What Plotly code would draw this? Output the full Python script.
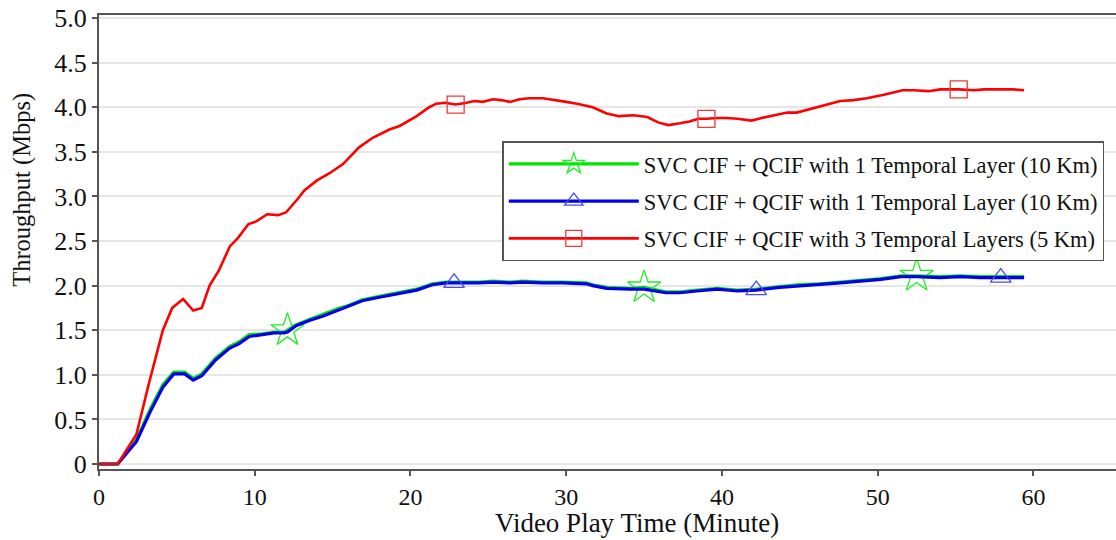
import plotly.graph_objects as go

# ---- data ----
t_10km = [0, 1.2, 2.4, 3.3, 4.1, 4.8, 5.5, 6.05, 6.6, 7.5,
          8.4, 9.0, 9.65, 10.5, 11.25, 11.9, 12.1, 12.65, 13.5, 14.4,
          15.3, 15.9, 16.9, 18.0, 19.1, 20.4, 21.4, 22.3, 22.8, 23.4,
          24.4, 25.3, 26.4, 27.2, 28.5, 29.8, 31.3, 31.7, 32.6, 34.1,
          35.0, 36.4, 37.3, 38.4, 39.7, 41.0, 42.2, 43.7, 45.0, 46.3,
          47.6, 48.9, 50.2, 51.5, 52.5, 54.0, 55.3, 56.6, 57.9, 59.4]

green_1layer = [0, 0, 0.27, 0.62, 0.89, 1.03, 1.03, 0.96, 1.01, 1.19,
                1.32, 1.37, 1.45, 1.46, 1.48, 1.48, 1.50, 1.56, 1.62, 1.68,
                1.74, 1.77, 1.84, 1.88, 1.92, 1.96, 2.02, 2.04, 2.04, 2.04,
                2.04, 2.05, 2.04, 2.05, 2.04, 2.04, 2.03, 2.01, 1.98, 1.97,
                1.98, 1.93, 1.93, 1.95, 1.97, 1.95, 1.96, 1.99, 2.01, 2.02,
                2.04, 2.06, 2.08, 2.11, 2.11, 2.10, 2.11, 2.10, 2.10, 2.10]

blue_1layer = [0, 0, 0.25, 0.59, 0.86, 1.01, 1.01, 0.94, 0.99, 1.17,
               1.30, 1.35, 1.43, 1.45, 1.47, 1.47, 1.48, 1.55, 1.61, 1.66,
               1.72, 1.76, 1.83, 1.87, 1.91, 1.95, 2.01, 2.03, 2.03, 2.03,
               2.03, 2.04, 2.03, 2.04, 2.03, 2.03, 2.02, 2.00, 1.97, 1.96,
               1.96, 1.92, 1.92, 1.94, 1.96, 1.94, 1.95, 1.98, 1.995, 2.01,
               2.03, 2.05, 2.07, 2.10, 2.10, 2.09, 2.10, 2.09, 2.09, 2.09]

t_5km = [0, 1.2, 2.4, 3.2, 4.1, 4.7, 5.4, 6.05, 6.6, 7.1,
         7.7, 8.4, 8.9, 9.6, 10.1, 10.8, 11.5, 12.0, 12.7, 13.2,
         14.0, 14.8, 15.65, 16.7, 17.6, 18.65, 19.3, 20.4, 21.2, 21.65,
         22.2, 22.9, 23.6, 24.1, 24.65, 25.3, 25.8, 26.4, 27.0, 27.65,
         28.5, 29.4, 30.0, 30.7, 31.3, 31.7, 32.6, 33.4, 34.3, 35.2,
         35.9, 36.55, 37.3, 37.9, 38.5, 39.0, 39.7, 40.3, 41.0, 41.9,
         42.55, 43.3, 44.2, 44.8, 45.45, 46.1, 46.7, 47.6, 48.45, 49.3,
         50.4, 51.6, 52.3, 53.3, 54.0, 55.2, 56.2, 56.8, 57.9, 58.7, 59.4]

red_3layers = [0, 0, 0.33, 0.90, 1.50, 1.75, 1.85, 1.72, 1.75, 2.00,
               2.17, 2.44, 2.53, 2.69, 2.72, 2.80, 2.79, 2.82, 2.96, 3.07,
               3.18, 3.26, 3.36, 3.55, 3.66, 3.75, 3.79, 3.90, 4.00, 4.04,
               4.05, 4.03, 4.05, 4.07, 4.06, 4.09, 4.08, 4.06, 4.09, 4.10,
               4.10, 4.08, 4.06, 4.04, 4.02, 4.00, 3.93, 3.90, 3.91, 3.89,
               3.83, 3.80, 3.82, 3.84, 3.87, 3.87, 3.88, 3.88, 3.87, 3.85,
               3.88, 3.91, 3.94, 3.94, 3.97, 4.00, 4.03, 4.07, 4.08, 4.10,
               4.14, 4.19, 4.19, 4.18, 4.20, 4.20, 4.19, 4.20, 4.20, 4.20, 4.19]

star_marker_t = [12.1, 35.0, 52.5]
triangle_marker_t = [22.8, 42.2, 57.9]
square_marker_t = [22.9, 39.0, 55.2]

names = ["SVC CIF + QCIF with 1 Temporal Layer (10 Km)",
         "SVC CIF + QCIF with 1 Temporal Layer (10 Km)",
         "SVC CIF + QCIF with 3 Temporal Layers (5 Km)"]

y_tickvals = [0, 0.5, 1.0, 1.5, 2.0, 2.5, 3.0, 3.5, 4.0, 4.5, 5.0]
y_ticktext = ["0", "0.5", "1.0", "1.5", "2.0", "2.5", "3.0", "3.5", "4.0", "4.5", "5.0"]
x_tickvals = [0, 10, 20, 30, 40, 50, 60]

x_title = "Video Play Time (Minute)"
y_title = "Throughput (Mbps)"

FONT = "Liberation Serif, Times New Roman, serif"

fig = go.Figure()

def add_series(x, y, name, color, width, symbol, msize, marker_t, mcolor, grp):
    sel = [x.index(v) for v in marker_t]
    fig.add_trace(go.Scatter(
        x=x, y=y, name=name, mode="lines+markers", legendgroup=grp,
        line=dict(color=color, width=width),
        marker=dict(symbol=symbol, size=msize, color=mcolor,
                    line=dict(color=mcolor, width=1.3)),
        selectedpoints=sel,
        selected=dict(marker=dict(opacity=1)),
        unselected=dict(marker=dict(opacity=0)),
    ))

add_series(t_10km, green_1layer, names[0], "#00e600", 3.2, "star-open", 25,
           star_marker_t, "#22ee22", "g")
add_series(t_10km, blue_1layer, names[1], "#0000f0", 3.2, "triangle-up-open", 18,
           triangle_marker_t, "#4a4af5", "b")
add_series(t_5km, red_3layers, names[2], "#ff0000", 2.6, "square-open", 17,
           square_marker_t, "#f03a3a", "r")

fig.update_layout(
    width=1116, height=540,
    margin=dict(l=99, r=0, t=15, b=71),
    plot_bgcolor="white", paper_bgcolor="white",
    font=dict(family=FONT, color="#111111", size=22),
    showlegend=True,
    legend=dict(
        x=0.9885, y=0.722, xanchor="right", yanchor="top",
        bgcolor="white", bordercolor="#555555", borderwidth=1.5,
        font=dict(family=FONT, size=22.5, color="#111111"),
        traceorder="grouped", tracegroupgap=5, itemwidth=130,
    ),
    xaxis=dict(
        range=[0, 65.3], tickvals=x_tickvals,
        showline=True, linecolor="#555555", linewidth=2, mirror=True,
        ticks="outside", ticklen=5, tickcolor="#555555", tickwidth=1.5,
        showgrid=False, zeroline=False,
        tickfont=dict(family=FONT, size=24),
    ),
    yaxis=dict(
        range=[-0.056, 5.034], tickvals=y_tickvals, ticktext=y_ticktext,
        showline=True, linecolor="#555555", linewidth=2,
        ticks="outside", ticklen=5, tickcolor="#555555", tickwidth=1.5,
        showgrid=True, gridcolor="#e6e6e6", gridwidth=1.5, zeroline=False,
        tickfont=dict(family=FONT, size=26),
    ),
    annotations=[
        dict(text=x_title, xref="paper", yref="paper", x=0.529, y=-0.119,
             xanchor="center", yanchor="middle", showarrow=False,
             font=dict(family=FONT, size=27, color="#111111")),
        dict(text=y_title, xref="paper", yref="paper", x=-0.0757, y=0.615,
             xanchor="center", yanchor="middle", showarrow=False, textangle=-90,
             font=dict(family=FONT, size=24.5, color="#111111")),
    ],
)

fig.write_html("out.html")
